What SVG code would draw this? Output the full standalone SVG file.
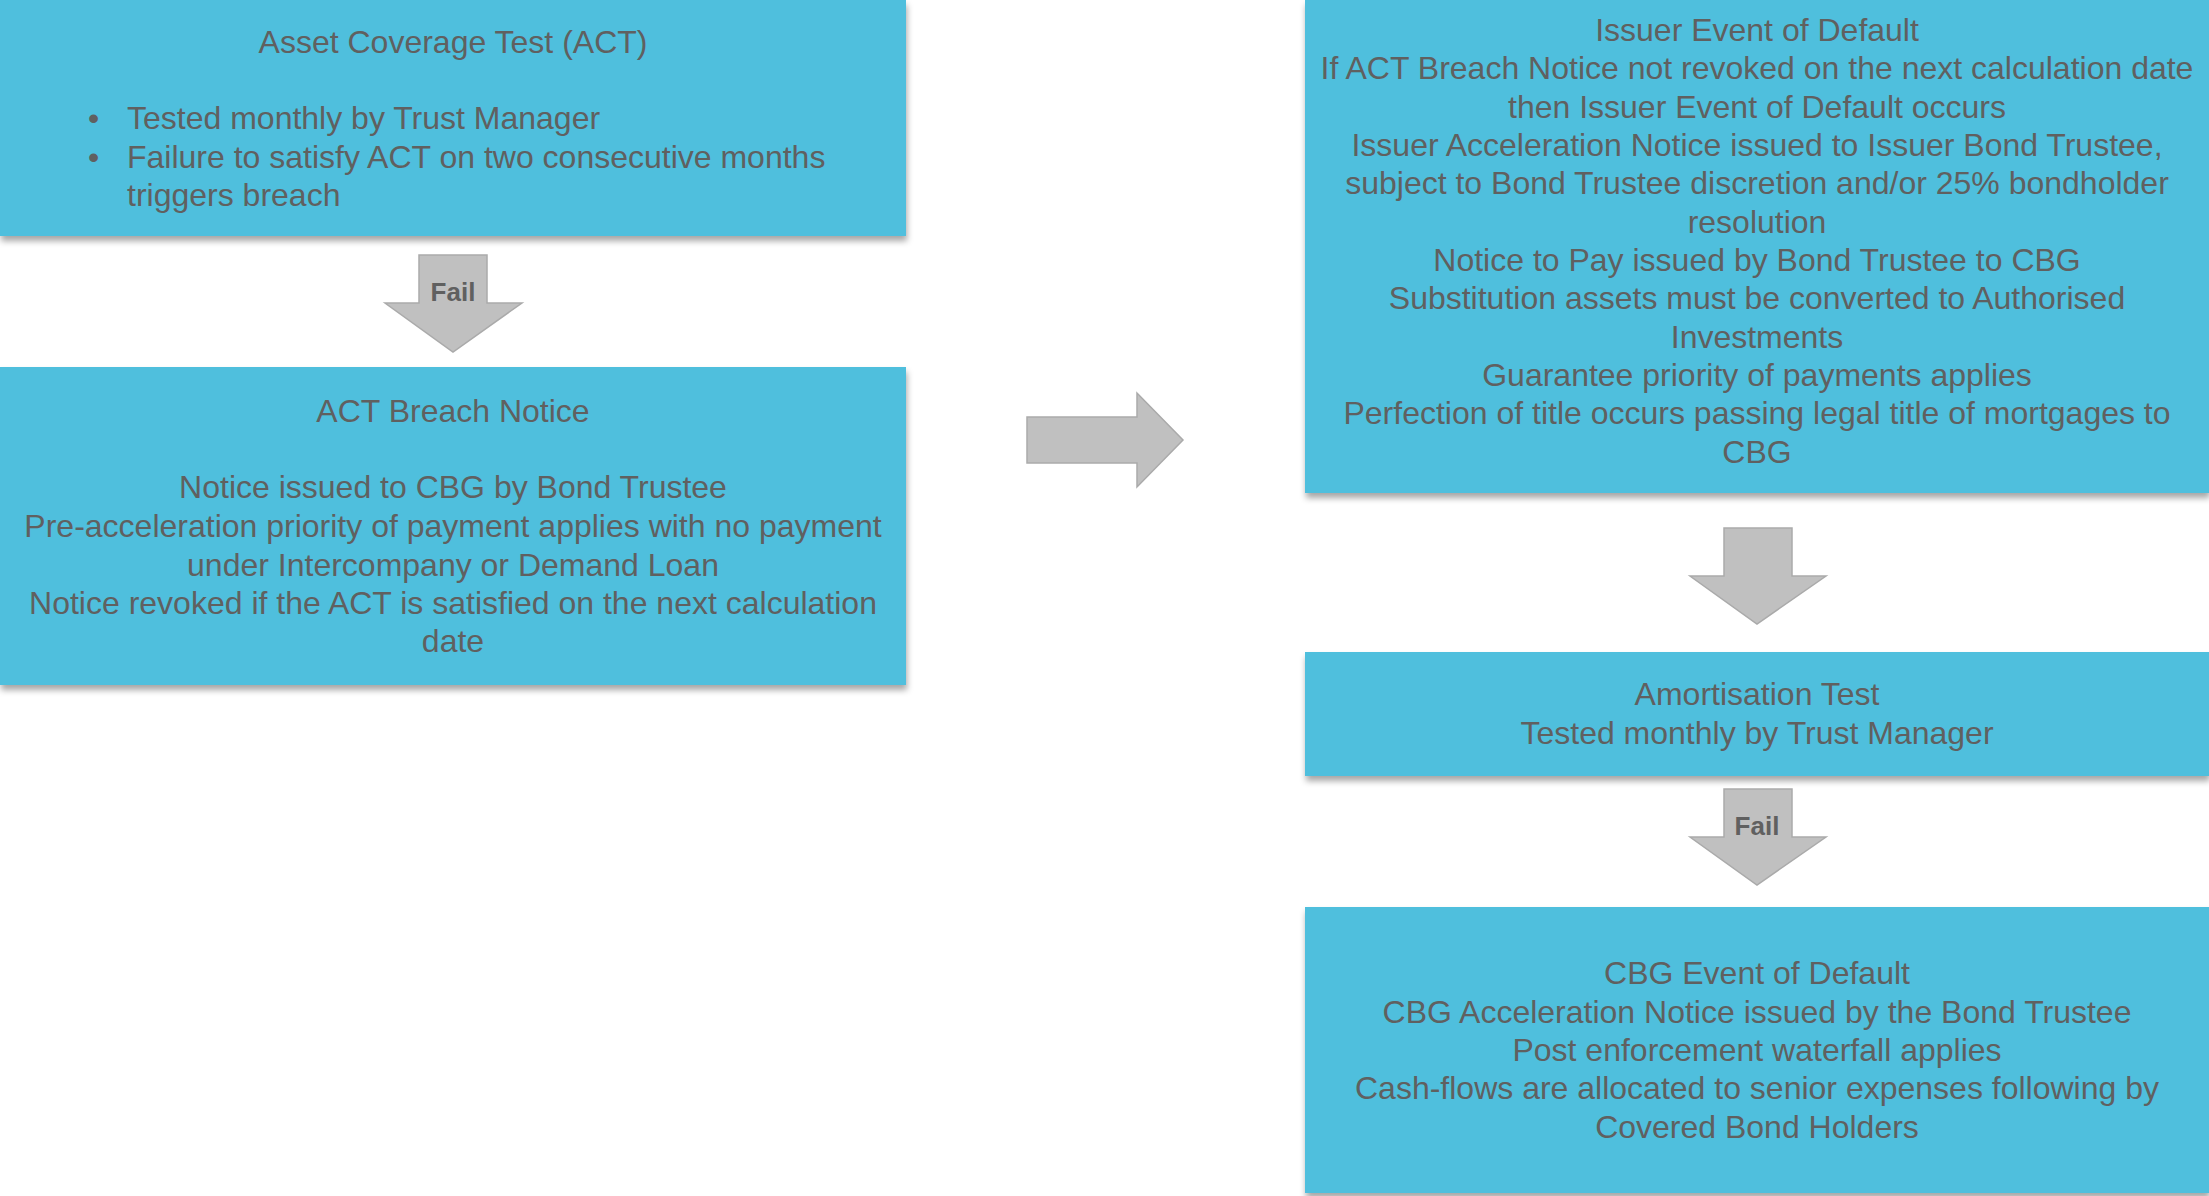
<svg xmlns="http://www.w3.org/2000/svg" width="2209" height="1196" viewBox="0 0 2209 1196">
<defs>
<filter id="sh" x="-5%" y="-10%" width="110%" height="130%">
<feDropShadow dx="1" dy="5" stdDeviation="3" flood-color="#000" flood-opacity="0.35"/>
</filter>
</defs>
<style>
.box{fill:#50BFDD;filter:url(#sh)}
.t{font-family:"Liberation Sans",Arial,sans-serif;font-size:32px;fill:#606060;text-anchor:middle}
.tl{font-family:"Liberation Sans",Arial,sans-serif;font-size:32px;fill:#606060}
.arr{fill:#C0C0C0;stroke:#AAAAAA;stroke-width:1.5}
.fail{font-family:"Liberation Sans",Arial,sans-serif;font-size:26px;font-weight:bold;fill:#606060;text-anchor:middle}
</style>
<rect width="2209" height="1196" fill="#FFFFFF"/>

<g id="connectors">
<g id="arrow-fail-1">
<polygon class="arr" points="419,255 487,255 487,303 522,303 453,352 385,303 419,303"/>
<text class="fail" x="453" y="301">Fail</text>
</g>
<g id="arrow-right">
<polygon class="arr" points="1027,417 1137,417 1137,393 1183,440 1137,487 1137,463 1027,463"/>
</g>
<g id="arrow-down">
<polygon class="arr" points="1724,528 1792,528 1792,576 1826,576 1757,624 1690,576 1724,576"/>
</g>
<g id="arrow-fail-2">
<polygon class="arr" points="1724,789 1792,789 1792,837 1826,837 1757,885 1690,837 1724,837"/>
<text class="fail" x="1757" y="835">Fail</text>
</g>
</g>

<g id="node-act">
<rect class="box" x="0" y="0" width="906" height="236"/>
<text class="t" x="453" y="53">Asset Coverage Test (ACT)</text>
<text class="tl" x="88" y="129">•</text>
<text class="tl" x="127" y="129">Tested monthly by Trust Manager</text>
<text class="tl" x="88" y="168">•</text>
<text class="tl" x="127" y="168">Failure to satisfy ACT on two consecutive months</text>
<text class="tl" x="127" y="206">triggers breach</text>
</g>

<g id="node-breach">
<rect class="box" x="0" y="367" width="906" height="318"/>
<text class="t" x="453" y="422">ACT Breach Notice</text>
<text class="t" x="453" y="498">Notice issued to CBG by Bond Trustee</text>
<text class="t" x="453" y="537">Pre-acceleration priority of payment applies with no payment</text>
<text class="t" x="453" y="576">under Intercompany or Demand Loan</text>
<text class="t" x="453" y="614">Notice revoked if the ACT is satisfied on the next calculation</text>
<text class="t" x="453" y="652">date</text>
</g>

<g id="node-issuer-eod">
<rect class="box" x="1305" y="0" width="904" height="493"/>
<text class="t" x="1757" y="41">Issuer Event of Default</text>
<text class="t" x="1757" y="79">If ACT Breach Notice not revoked on the next calculation date</text>
<text class="t" x="1757" y="118">then Issuer Event of Default occurs</text>
<text class="t" x="1757" y="156">Issuer Acceleration Notice issued to Issuer Bond Trustee,</text>
<text class="t" x="1757" y="194">subject to Bond Trustee discretion and/or 25% bondholder</text>
<text class="t" x="1757" y="233">resolution</text>
<text class="t" x="1757" y="271">Notice to Pay issued by Bond Trustee to CBG</text>
<text class="t" x="1757" y="309">Substitution assets must be converted to Authorised</text>
<text class="t" x="1757" y="348">Investments</text>
<text class="t" x="1757" y="386">Guarantee priority of payments applies</text>
<text class="t" x="1757" y="424">Perfection of title occurs passing legal title of mortgages to</text>
<text class="t" x="1757" y="463">CBG</text>
</g>

<g id="node-amortisation">
<rect class="box" x="1305" y="652" width="904" height="124"/>
<text class="t" x="1757" y="705">Amortisation Test</text>
<text class="t" x="1757" y="744">Tested monthly by Trust Manager</text>
</g>

<g id="node-cbg-eod">
<rect class="box" x="1305" y="907" width="904" height="286"/>
<text class="t" x="1757" y="984">CBG Event of Default</text>
<text class="t" x="1757" y="1023">CBG Acceleration Notice issued by the Bond Trustee</text>
<text class="t" x="1757" y="1061">Post enforcement waterfall applies</text>
<text class="t" x="1757" y="1099">Cash-flows are allocated to senior expenses following by</text>
<text class="t" x="1757" y="1138">Covered Bond Holders</text>
</g>
</svg>
